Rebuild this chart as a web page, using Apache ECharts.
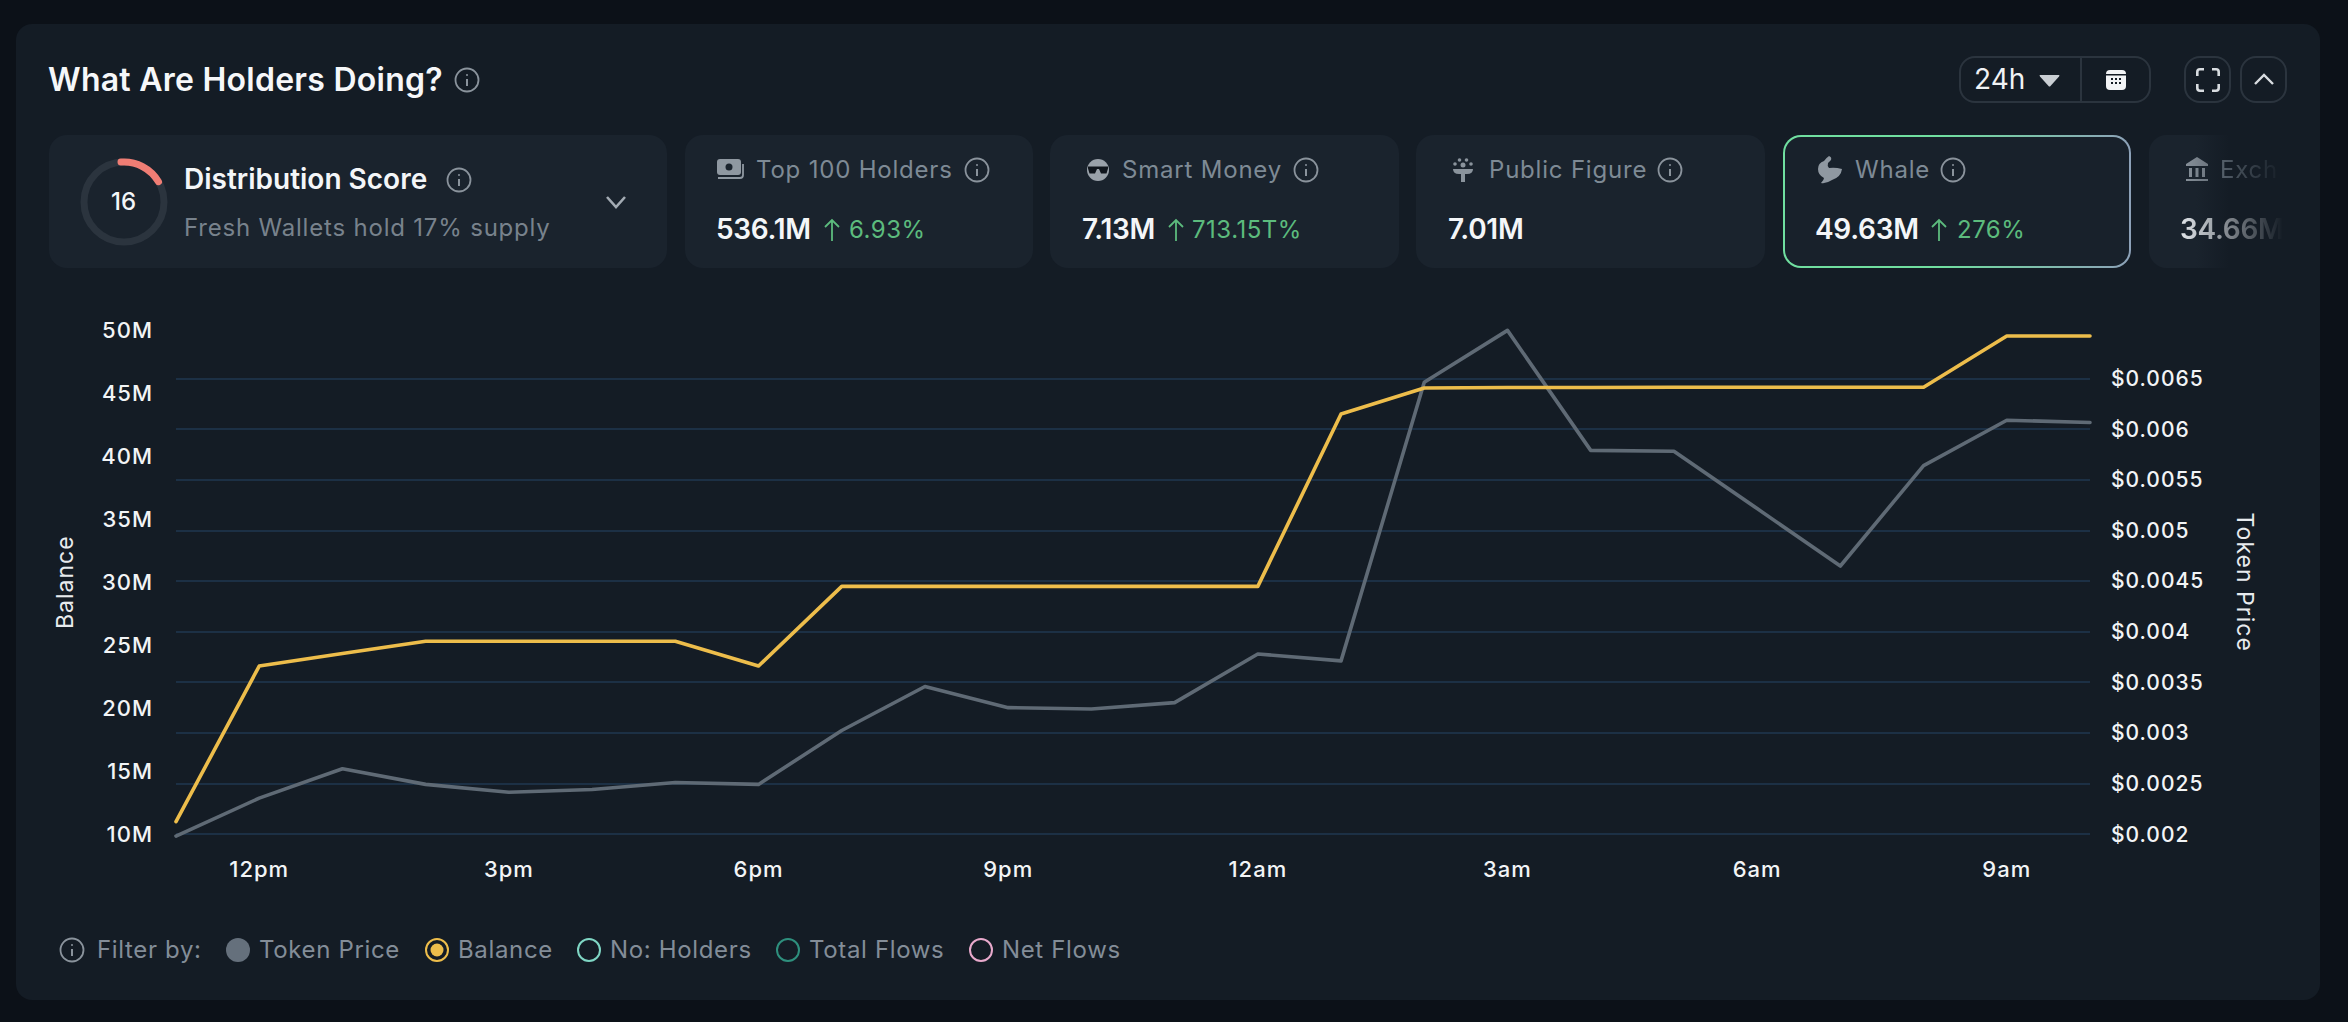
<!DOCTYPE html>
<html>
<head>
<meta charset="utf-8">
<title>What Are Holders Doing?</title>
<script src="https://cdn.jsdelivr.net/npm/echarts@6/dist/echarts.min.js"></script>
<style>
html,body{margin:0;padding:0;width:2348px;height:1022px;overflow:hidden;background:#0c1118;font-family:Inter,"Noto Sans",sans-serif;}
#panel{position:absolute;left:16px;top:24px;width:2304px;height:976px;background:#141c25;border-radius:16px;}
#chart{position:absolute;left:0;top:0;width:2348px;height:1022px;}
#chart text{letter-spacing:1px;}
.t{position:absolute;white-space:nowrap;transform:translateY(-50%);line-height:1.2;}
.box{position:absolute;top:135px;height:133px;background:#1a232d;border-radius:18px;box-sizing:border-box;}
.label{font-size:24px;color:#7e8a95;letter-spacing:.8px;}
.val{font-size:28px;font-weight:600;color:#f4f6f8;letter-spacing:-.3px;}
.pct{font-size:24px;font-weight:400;color:#5cbb7d;letter-spacing:.5px;}
.btn{position:absolute;top:56px;height:47px;box-sizing:border-box;border:2px solid #2b343e;border-radius:16px;}
.ic{position:absolute;transform:translate(-50%,-50%);}
.leg{font-size:24px;color:#838d98;letter-spacing:.65px;}
</style>
</head>
<body>
<div id="panel"></div>

<!-- header -->
<div class="t" style="left:48px;top:80px;font-size:32px;font-weight:600;color:#f6f7f9;letter-spacing:.25px;">What Are Holders Doing?</div>
<svg class="ic" style="left:467px;top:80px" width="26" height="26"><use href="#info"/></svg>

<div class="btn" style="left:1959px;width:192px;"></div>
<div style="position:absolute;left:2080px;top:57px;width:2px;height:45px;background:#2b343e;"></div>
<div class="t" style="left:1974px;top:80px;font-size:28px;font-weight:400;color:#f0f2f4;">24h</div>
<svg class="ic" style="left:2050px;top:81px" width="22" height="14"><path d="M1 1H20Q21 1 20 2.500L11.500 12Q10.500 13 9.500 12L1 2.500Q0 1 1 1Z" fill="#c9ced3"/></svg>
<svg class="ic" style="left:2116px;top:80px" width="20" height="22"><rect x="0" y="1" width="20" height="20" rx="4" fill="#f2f4f6"/><rect x="0" y="5" width="20" height="1.500" fill="#141c25"/><path d="M5 9h2v2H5zM9 9h2v2H9zM13 9h2v2h-2zM5 13h2v2H5zM9 13h2v2H9zM13 13h2v2h-2z" fill="#141c25"/></svg>
<div class="btn" style="left:2184px;width:47px;"></div>
<svg class="ic" style="left:2208px;top:80px" width="24" height="24" fill="none" stroke="#d8dce0" stroke-width="2.600"><path d="M1.300 8V4Q1.300 1.300 4 1.300H8M16 1.300H20Q22.700 1.300 22.700 4V8M22.700 16V20Q22.700 22.700 20 22.700H16M8 22.700H4Q1.300 22.700 1.300 20V16"/></svg>
<div class="btn" style="left:2240px;width:47px;"></div>
<svg class="ic" style="left:2264px;top:79px" width="22" height="14" fill="none" stroke="#d8dce0" stroke-width="2.400"><path d="M2 12L11 3L20 12"/></svg>

<!-- distribution score -->
<div class="box" style="left:49px;width:618px;"></div>
<svg class="ic" style="left:124px;top:202px" width="94" height="94" fill="none" stroke-width="7">
  <circle cx="47" cy="47" r="40" stroke="#2b343e"/>
  <path d="M44 7.100A40 40 0 0 1 81.500 26.700" stroke="#ef7d74" stroke-linecap="round"/>
</svg>
<div class="t" style="left:123.500px;top:202px;font-size:24px;font-weight:500;color:#f4f6f8;transform:translate(-50%,-50%);">16</div>
<div class="t" style="left:184px;top:180px;font-size:28px;font-weight:600;color:#f4f6f8;">Distribution Score</div>
<svg class="ic" style="left:459px;top:180px" width="26" height="26"><use href="#info"/></svg>
<div class="t label" style="left:184px;top:228px;color:#78828c;">Fresh Wallets hold 17% supply</div>
<svg class="ic" style="left:616px;top:202px" width="22" height="14" fill="none" stroke="#a3abb3" stroke-width="2.600"><path d="M2 2L11 12L20 2"/></svg>

<!-- top 100 holders -->
<div class="box" style="left:685px;width:348px;"></div>
<svg class="ic" style="left:731px;top:170px" width="28" height="22">
  <rect x="0" y="0" width="24" height="16" rx="3" fill="#8f98a1"/><circle cx="12" cy="8" r="3.500" fill="#1a232d"/>
  <path d="M1 19H23Q26 19 26 16V5" fill="none" stroke="#8f98a1" stroke-width="1.800"/>
</svg>
<div class="t label" style="left:756px;top:170px;">Top 100 Holders</div>
<svg class="ic" style="left:977px;top:170px" width="26" height="26"><use href="#info"/></svg>
<div class="t val" style="left:716px;top:230px;">536.1M</div>
<svg class="ic" style="left:832px;top:230px" width="18" height="24"><use href="#up"/></svg>
<div class="t pct" style="left:849px;top:230px;">6.93%</div>

<!-- smart money -->
<div class="box" style="left:1050px;width:349px;"></div>
<svg class="ic" style="left:1098px;top:170px" width="24" height="24"><circle cx="12" cy="12" r="11" fill="#9aa2aa"/><path d="M2 8.500H22V10.500L20.500 15.500H15L13 11H11L9 15.500H3.500L2 10.500Z" fill="#10161d"/></svg>
<div class="t label" style="left:1122px;top:170px;">Smart Money</div>
<svg class="ic" style="left:1306px;top:170px" width="26" height="26"><use href="#info"/></svg>
<div class="t val" style="left:1082px;top:230px;">7.13M</div>
<svg class="ic" style="left:1176px;top:230px" width="18" height="24"><use href="#up"/></svg>
<div class="t pct" style="left:1192px;top:230px;">713.15T%</div>

<!-- public figure -->
<div class="box" style="left:1416px;width:349px;"></div>
<svg class="ic" style="left:1463px;top:170px" width="24" height="24" fill="#8a939c"><circle cx="4" cy="6" r="1.800"/><circle cx="8.500" cy="2" r="1.800"/><circle cx="15.500" cy="2" r="1.800"/><circle cx="20" cy="6" r="1.800"/><circle cx="12" cy="7" r="2.500"/><path d="M2 11h20q0 5-6 5h-2v8h-4v-8H8q-6 0-6-5z"/></svg>
<div class="t label" style="left:1489px;top:170px;">Public Figure</div>
<svg class="ic" style="left:1670px;top:170px" width="26" height="26"><use href="#info"/></svg>
<div class="t val" style="left:1448px;top:230px;">7.01M</div>

<!-- whale, selected -->
<div class="box" style="left:1783px;width:348px;border:2px solid transparent;background:linear-gradient(#18212b,#18212b) padding-box,linear-gradient(90deg,#70dfa0 0%,#70dfa0 45%,#8da1b8 100%) border-box;"></div>
<svg class="ic" style="left:1830px;top:170px" width="26" height="30" fill="#8f98a1"><path d="M12 1Q15 2 14 5L11 8Q10 11 12 13Q18 12 25 14Q24 22 15 25Q9 29 4 28Q7 25 7 23Q1 20 1 14Q1 8 7 6Q9 3 12 1Z"/></svg>
<div class="t label" style="left:1855px;top:170px;">Whale</div>
<svg class="ic" style="left:1953px;top:170px" width="26" height="26"><use href="#info"/></svg>
<div class="t val" style="left:1815px;top:230px;">49.63M</div>
<svg class="ic" style="left:1939px;top:230px" width="18" height="24"><use href="#up"/></svg>
<div class="t pct" style="left:1957px;top:230px;">276%</div>

<!-- exchange, faded by the scroll edge -->
<div class="box" style="left:2149px;width:134px;background:linear-gradient(90deg,#1a232d 0%,#1a232d 35%,#141c25 60%);"></div>
<div style="position:absolute;left:2149px;top:135px;width:134px;height:133px;-webkit-mask-image:linear-gradient(90deg,#000 25%,transparent 100%);mask-image:linear-gradient(90deg,#000 25%,transparent 100%);">
  <svg class="ic" style="left:48px;top:35px" width="24" height="26" fill="#8a939c"><path d="M12 0L23 7v2H1V7zM4 11h3v9H4zM10.500 11h3v9h-3zM17 11h3v9h-3zM1 22h22v2H1z"/></svg>
  <div class="t label" style="left:71px;top:35px;">Exch</div>
  <div class="t val" style="left:31px;top:95px;color:#dde1e5;">34.66M</div>
</div>

<div id="chart"></div>

<!-- filter row -->
<svg class="ic" style="left:72px;top:950px" width="26" height="26"><use href="#info"/></svg>
<div class="t leg" style="left:97px;top:950px;">Filter by:</div>
<svg class="ic" style="left:238px;top:950px" width="26" height="26"><circle cx="13" cy="13" r="12" fill="#65707c"/></svg>
<div class="t leg" style="left:259px;top:950px;">Token Price</div>
<svg class="ic" style="left:437px;top:950px" width="26" height="26" fill="none"><circle cx="13" cy="13" r="11" stroke="#edbd4b" stroke-width="2"/><circle cx="13" cy="13" r="6.500" fill="#edbd4b"/></svg>
<div class="t leg" style="left:458px;top:950px;">Balance</div>
<svg class="ic" style="left:589px;top:950px" width="26" height="26" fill="none"><circle cx="13" cy="13" r="11" stroke="#7fd6c4" stroke-width="2"/></svg>
<div class="t leg" style="left:610px;top:950px;">No: Holders</div>
<svg class="ic" style="left:788px;top:950px" width="26" height="26" fill="none"><circle cx="13" cy="13" r="11" stroke="#2e8f7d" stroke-width="2"/></svg>
<div class="t leg" style="left:809px;top:950px;">Total Flows</div>
<svg class="ic" style="left:981px;top:950px" width="26" height="26" fill="none"><circle cx="13" cy="13" r="11" stroke="#e8a9cc" stroke-width="2"/></svg>
<div class="t leg" style="left:1002px;top:950px;">Net Flows</div>

<svg width="0" height="0" style="position:absolute">
  <defs>
    <g id="info" fill="none" stroke="#8a939c" stroke-width="1.800">
      <circle cx="13" cy="13" r="11.500"/>
      <path d="M13 12v7" stroke-width="2"/>
      <circle cx="13" cy="8" r="1" fill="#8a939c" stroke="none"/>
    </g>
    <g id="up" fill="none" stroke="#5cbb7d" stroke-width="1.800">
      <path d="M9 23V2M2 9L9 2L16 9"/>
    </g>
  </defs>
</svg>

<script>
// 横轴 hourly from 11am to 10am
var hours = ['11am','12pm','1pm','2pm','3pm','4pm','5pm','6pm','7pm','8pm','9pm','10pm','11pm','12am','1am','2am','3am','4am','5am','6am','7am','8am','9am','10am'];
// whale balance
var balance = [10980000,23340000,24330000,25310000,25310000,25310000,25310000,23340000,29670000,29670000,29670000,29670000,29670000,29670000,43360000,45420000,45460000,45460000,45480000,45480000,45480000,45480000,49560000,49560000];
// token price
var tokenPrice = [0.00198,0.002354,0.002645,0.00249,0.002413,0.00244,0.002509,0.00249,0.003022,0.003457,0.003248,0.003234,0.003298,0.003778,0.00371,0.006461,0.006974,0.005789,0.00578,0.005214,0.004647,0.005638,0.006087,0.006064];

var myChart = echarts.init(document.getElementById('chart'), null, {renderer:'svg'});
var labelStyle = {color:'#f2f4f6', fontFamily:'Inter', fontSize:22, fontWeight:500};

var option = {
    animation:false,
    backgroundColor:'transparent',
    grid:{left:176, top:330.4, width:1914, height:503.6},
    xAxis:{
        type:'category',
        boundaryGap:false,
        data:hours,
        axisLine:{show:false},
        axisTick:{show:false},
        axisLabel:Object.assign({}, labelStyle, {
            margin:24,
            interval:function(index){ return index%3==1; }
        })
    },
    yAxis:[
        {
            type:'value',
            name:'Balance',
            nameLocation:'middle',
            nameGap:100,
            nameTextStyle:{color:'#e8ebee', fontFamily:'Inter', fontSize:23},
            min:10000000,
            max:50000000,
            interval:5000000,
            axisLine:{show:false},
            axisTick:{show:false},
            splitLine:{show:false},
            axisLabel:Object.assign({}, labelStyle, {
                margin:23,
                formatter:function(v){ return (v/1000000)+'M'; }
            })
        },
        {
            type:'value',
            name:'Token Price',
            nameLocation:'middle',
            nameRotate:-90,
            nameGap:143,
            nameTextStyle:{color:'#e8ebee', fontFamily:'Inter', fontSize:23},
            position:'right',
            min:0.002,
            max:0.006974,
            interval:0.0005,
            axisLine:{show:false},
            axisTick:{show:false},
            splitLine:{show:true, showMaxLine:false, lineStyle:{color:'#1f3750', width:1.6}},
            axisLabel:Object.assign({}, labelStyle, {
                fontSize:21,
                margin:21,
                padding:[0,0,6,0],
                showMaxLabel:false,
                formatter:function(v){ return '$'+parseFloat(v.toFixed(4)); }
            })
        }
    ],
    series:[
        {
            name:'Token Price',
            type:'line',
            yAxisIndex:1,
            data:tokenPrice,
            showSymbol:false,
            clip:false,
            lineStyle:{color:'#5f6a75', width:3.6, cap:'round', join:'round'}
        },
        {
            name:'Balance',
            type:'line',
            yAxisIndex:0,
            data:balance,
            showSymbol:false,
            clip:false,
            lineStyle:{color:'#edbd4b', width:3.6, cap:'round', join:'round'}
        }
    ]
};
myChart.setOption(option);
</script>
</body>
</html>
